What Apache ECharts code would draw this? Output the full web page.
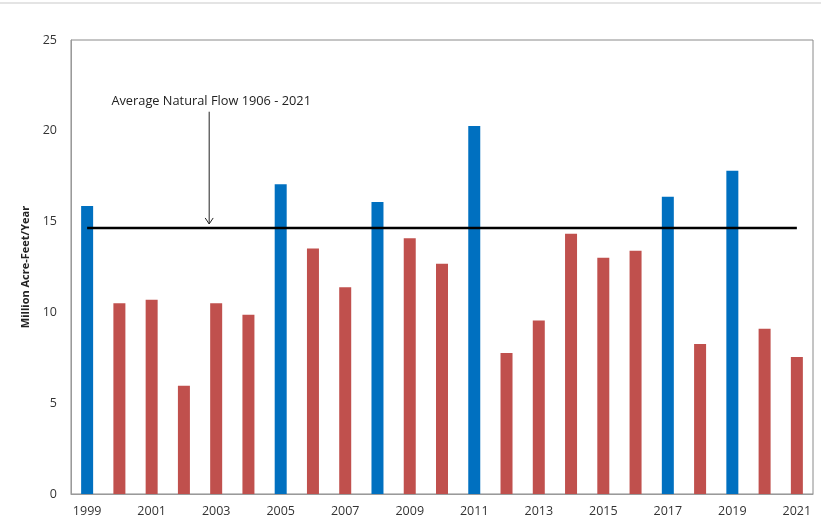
<!DOCTYPE html>
<html>
<head>
<meta charset="utf-8">
<script src="https://cdn.jsdelivr.net/npm/echarts@6/dist/echarts.min.js"></script>
<style>
html,body{margin:0;padding:0;background:#fff;}
#chart{width:821px;height:523px;}
</style>
</head>
<body>
<div id="chart"></div>
<script>
const years = ['1999','2000','2001','2002','2003','2004','2005','2006','2007','2008','2009','2010','2011','2012','2013','2014','2015','2016','2017','2018','2019','2020','2021'];
const flows = [15.86,10.5,10.7,5.96,10.5,9.87,17.06,13.52,11.39,16.08,14.08,12.68,20.26,7.76,9.55,14.33,13.01,13.4,16.37,8.26,17.8,9.1,7.54];
const avgFlow = 14.65;
const avgLabel = 'Average Natural Flow 1906 - 2021';
const yTicks = [0, 5, 10, 15, 20, 25];

const BLUE = '#0070C0', RED = '#C0504D';
const chart = echarts.init(document.getElementById('chart'));
const font = 'Open Sans, DejaVu Sans, sans-serif';

chart.setOption({
  animation: false,
  backgroundColor: '#fff',
  grid: { left: 71, right: 8, top: 40, bottom: 29, show: true, borderColor: '#8a8a8a', borderWidth: 1 },
  xAxis: {
    type: 'category', data: years, boundaryGap: true,
    axisLine: { lineStyle: { color: '#9a9a9a', width: 1 } },
    axisTick: { show: false },
    axisLabel: { interval: 1, color: '#333', fontFamily: font, fontSize: 12.5, margin: 11 }
  },
  yAxis: {
    type: 'value', min: yTicks[0], max: yTicks[yTicks.length-1], interval: 5,
    name: 'Million Acre-Feet/Year', nameLocation: 'middle', nameGap: 27,
    nameTextStyle: { color: '#222', fontFamily: font, fontSize: 11, fontWeight: 'bold' },
    axisLine: { show: true, lineStyle: { color: '#9a9a9a', width: 1 } },
    axisTick: { show: false },
    splitLine: { show: false },
    axisLabel: { color: '#333', fontFamily: font, fontSize: 12.5, margin: 14 }
  },
  series: [
    {
      type: 'bar', barWidth: 12,
      data: flows.map(v => ({ value: v, itemStyle: { color: v > avgFlow ? BLUE : RED } })),
      z: 2
    },
    {
      type: 'line', data: years.map(() => avgFlow), symbol: 'none',
      lineStyle: { color: '#000', width: 2.5 }, z: 3
    }
  ]
});

// annotation text + arrow
const xArrow = chart.convertToPixel({ xAxisIndex: 0 }, '2003') - 7;
const yText = chart.convertToPixel({ yAxisIndex: 0 }, 21.6);
const yArrowTop = chart.convertToPixel({ yAxisIndex: 0 }, 21.05);
const yArrowTip = chart.convertToPixel({ yAxisIndex: 0 }, avgFlow) - 4;
chart.setOption({
  graphic: [
    { type: 'line', shape: { x1: 0, y1: 3, x2: 821, y2: 3 }, style: { stroke: '#e4e4e4', lineWidth: 2 } },
    { type: 'text', x: xArrow + 2, y: yText, style: { text: avgLabel, fill: '#222', font: '12.8px ' + font, align: 'center', verticalAlign: 'middle' } },
    { type: 'line', shape: { x1: xArrow, y1: yArrowTop, x2: xArrow, y2: yArrowTip }, style: { stroke: '#222', lineWidth: 1 } },
    { type: 'polyline', shape: { points: [[xArrow - 4, yArrowTip - 6], [xArrow, yArrowTip], [xArrow + 4, yArrowTip - 6]] }, style: { stroke: '#222', lineWidth: 1, fill: null } }
  ]
});
</script>
</body>
</html>
